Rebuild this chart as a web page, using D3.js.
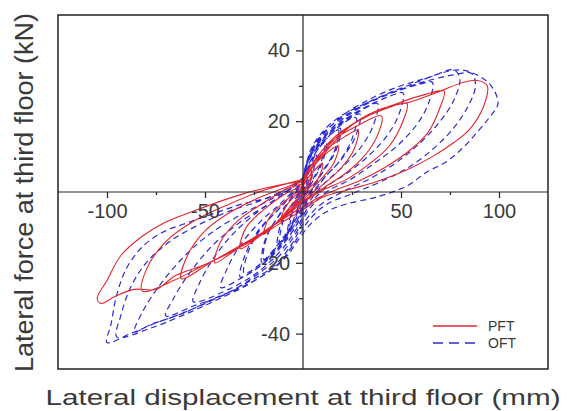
<!DOCTYPE html>
<meta charset="utf-8">
<style>
  body { margin: 0; background: #fff; }
  svg { display: block; }
  .tick text { font-family: "Liberation Sans", Arial, sans-serif; font-size: 20px; fill: #3a3a3a; }
  .axis-title { font-family: "Liberation Sans", Arial, sans-serif; fill: #3a3a3a; }
  .legend text { font-family: "Liberation Sans", Arial, sans-serif; font-size: 14px; fill: #3a3a3a; }
</style>
<body>
<svg width="567" height="411"></svg>
<script src="https://d3js.org/d3.v7.min.js"></script>
<script>
// ticks
var xMajor = [-100, -50, 50, 100];
var xMinor = [-75, -25, 25, 75];
var yMajor = [-40, -20, 20, 40];
var yMinor = [-30, -10, 10, 30];

var seriesNames = ["PFT", "OFT"];

// PFT hysteresis, one array of [displacement mm, force kN] per cycle
var pftLoops = [
  [[0,0],[3,3],[5,5],[3,2],[0,0],[-3,-2],[-5,-4],[-3,-2],[0,0]],
  [[0,1.5],[4,5],[10,8],[8,4],[2,0.5],[-4,-2.5],[-11,-7],[-8,-3.5],[-3,-0.5],[0,1]],
  [[0,2],[5,7],[11,10.5],[18,13],[16,8.5],[9,3.5],[0,-1.5],[-9,-6],[-20,-12],[-17,-7],[-9,-2.5],[0,1.5]],
  [[0,2.5],[5,8],[13,12.5],[21,15.5],[28,17.5],[26,12],[19,6.5],[10,2],[0,-2],[-10,-7],[-21,-12],[-32,-16],[-29,-10],[-20,-5],[-9,-0.5],[0,2]],
  [[0,3],[6,9],[15,14.5],[27,18.5],[40,21.5],[38,16],[31,10],[21,5],[10,1],[0,-2.5],[-12,-8],[-25,-13],[-36,-17],[-45,-20],[-42,-14],[-33,-8],[-20,-3],[-8,1],[0,2.5]],
  [[0,3.5],[6,9],[16,15.5],[28,20],[42,23.5],[53,25],[51,20],[44,13],[34,8],[22,3.5],[10,0.5],[0,-3],[-14,-9],[-30,-14.5],[-46,-19.5],[-62,-24.5],[-59,-18],[-50,-11],[-38,-6],[-22,-1.5],[-8,1.5],[0,3]],
  [[0,3],[6,8],[18,16],[32,21.5],[48,25],[62,27.5],[72,28.5],[70,24],[64,17],[55,12],[42,7],[28,3],[14,0],[0,-4],[-15,-9.5],[-32,-15.5],[-50,-20.5],[-66,-25],[-82,-28],[-80,-22],[-70,-14],[-55,-8],[-38,-3.5],[-20,0.5],[0,3.5]],
  [[0,3.5],[8,9],[24,18.5],[40,23.5],[55,25.5],[70,28.5],[82,31],[89,31.5],[94,30],[92,24],[85,17.7],[77,14],[66,10],[54,6.5],[37,2.8],[24,0.8],[10,-1.5],[0,-5],[-12,-9],[-30,-15],[-50,-20.5],[-65,-23.6],[-75,-27.5],[-86,-27.5],[-96,-29.5],[-103,-31.5],[-105,-30],[-100,-25],[-93,-18],[-82,-12.5],[-70,-8.5],[-53,-4.8],[-31,-0.6],[-12,2],[0,3]]
];

// OFT hysteresis
var oftLoops = [
  [[0,0],[2,3.5],[3,6],[2,3],[0,0],[-2,-3],[-3,-6],[-2,-3],[0,0]],
  [[0,2],[3,6.5],[6,10],[4,5],[0,-1],[-3,-5],[-7,-11],[-5,-5],[-1,0],[0,1.5]],
  [[0,1.5],[3,7],[7,11],[5,5.5],[1,-0.5],[-3,-6],[-8,-12],[-6,-6],[-1,-0.5],[0,2]],
  [[0,2.5],[3,8],[11,14],[9,8],[3,1.5],[-3,-6],[-12,-15],[-10,-8],[-4,-2],[0,2]],
  [[0,2],[4,9],[12,14.5],[10,8.5],[3,1],[-3,-7],[-13,-15.5],[-11,-8.5],[-4,-2.5],[0,2.5]],
  [[0,3],[3,9],[9,13.5],[18,17.5],[16,11.5],[9,5],[2,-1.5],[-4,-8],[-11,-13.5],[-20,-19],[-18,-12],[-10,-5],[0,2.5]],
  [[0,2.5],[3,9.5],[10,14],[19,18],[17,12],[10,5.5],[2,-2],[-4,-9],[-12,-14.5],[-21,-20],[-19,-13],[-11,-5.5],[0,3]],
  [[0,3.5],[3,9.5],[9,14],[17,18],[27,21],[25,15],[19,9],[10,3.5],[2,-2.5],[-4,-9],[-11,-14.5],[-20,-19.5],[-30,-23],[-28,-17],[-21,-10],[-10,-3.5],[0,3]],
  [[0,3],[3,10],[10,15],[19,19],[29,22],[27,16],[20,9.5],[11,4],[2,-3],[-4,-10],[-12,-15.5],[-21,-20.5],[-32,-24],[-30,-18.5],[-23,-11],[-11,-4],[0,3.5]],
  [[0,4],[3,10],[9,14.5],[18,19],[28,22.5],[38,25],[36,19],[30,13],[21,7.5],[11,2.5],[3,-3],[-4,-10],[-12,-16],[-22,-21],[-32,-24.5],[-42,-27],[-39,-22],[-32,-15],[-22,-8.5],[-11,-3],[0,3.5]],
  [[0,4],[4,10.5],[10,15],[20,20],[32,24],[44,27],[51,28],[49,22],[43,16],[34,10.5],[23,5.5],[12,1.5],[3,-4],[-4,-11],[-12,-17],[-24,-23],[-38,-27.5],[-56,-31],[-53,-26],[-46,-19],[-36,-12],[-24,-6],[-11,-1],[0,4]],
  [[0,4],[4,11],[10,15.5],[20,20.5],[33,25],[48,28.5],[60,30.5],[66,31],[64,25],[58,19],[48,13],[36,8],[24,3.5],[12,0],[3,-5],[-4,-12],[-12,-18],[-25,-24],[-40,-29],[-55,-32],[-70,-35],[-66,-30],[-58,-23],[-46,-15],[-32,-8.5],[-18,-3.5],[-6,1],[0,4]],
  [[0,4],[4,11],[10,16],[20,21.5],[35,26.5],[50,30],[65,32.5],[77,34.5],[80,32],[77,26],[70,20],[60,14],[48,8.5],[35,4],[20,0],[8,-4],[0,-9],[-6,-15],[-15,-21],[-30,-26],[-48,-31],[-65,-35],[-78,-37.5],[-86,-39.5],[-82,-34],[-74,-27],[-62,-19],[-48,-12],[-32,-6.5],[-16,-2],[-5,1.5],[0,4]],
  [[0,4],[4,11.5],[10,16.5],[20,21],[34,25.5],[50,29],[64,31.5],[76,33],[86,33.5],[88,30],[84,24],[76,17.5],[66,12],[54,7],[40,3],[25,-0.5],[12,-3.5],[3,-8],[-4,-14],[-12,-20],[-26,-25.5],[-44,-30.5],[-62,-35],[-78,-38.5],[-95,-41],[-93,-35],[-88,-27],[-80,-20],[-68,-14],[-54,-9.5],[-38,-5.5],[-22,-2.5],[-8,1],[0,4]],
  [[0,4],[4,12],[10,17],[18,21],[28,24],[44,28],[58,31],[70,33.5],[80,34.5],[89,33],[96,30],[99.5,25],[95,21],[89,17],[82,12.7],[73,8.5],[63,5.6],[53,1.7],[37,-1.5],[22,-3.4],[12,-5.6],[4,-9],[-3,-14],[-8,-18],[-16,-22],[-30,-26.5],[-45,-30],[-60,-34],[-75,-37],[-88,-40],[-100,-42.5],[-98,-37.5],[-95,-29],[-90,-21.5],[-82,-15.5],[-72,-11.5],[-58,-8.5],[-43,-5.6],[-31,-3.4],[-17,-1.5],[-6,1],[0,4]]
];

var colors = ["#e3262e", "#2b2bd6"];

var svg = d3.select("svg");
var x0 = 58, x1 = 548, y0 = 15, y1 = 369;

var x = d3.scaleLinear().domain([-125, 125]).range([x0, x1]);
var y = d3.scaleLinear().domain([-50, 50]).range([y1, y0]);

svg.append("clipPath").attr("id", "clip")
  .append("rect")
    .attr("x", x0).attr("y", y0)
    .attr("width", x1 - x0).attr("height", y1 - y0);

var line = d3.line()
  .x(function(d) { return x(d[0]); })
  .y(function(d) { return y(d[1]); })
  .curve(d3.curveCatmullRom.alpha(0.5));

var plot = svg.append("g").attr("clip-path", "url(#clip)");

/* OFT dashed first, PFT solid on top */
plot.append("path")
  .datum(d3.merge(oftLoops))
  .attr("d", line)
  .attr("fill", "none")
  .attr("stroke", colors[1])
  .attr("stroke-width", 1.2)
  .attr("stroke-dasharray", "6,4");

plot.append("path")
  .datum(d3.merge(pftLoops))
  .attr("d", line)
  .attr("fill", "none")
  .attr("stroke", colors[0])
  .attr("stroke-width", 1.1);

/* frame */
svg.append("rect")
  .attr("x", x0).attr("y", y0)
  .attr("width", x1 - x0).attr("height", y1 - y0)
  .attr("fill", "none")
  .attr("stroke", "#222")
  .attr("stroke-width", 1.5);

/* axes through origin */
var fmt = function(d) { return String(d); };

var xAxis = svg.append("g")
  .attr("transform", "translate(0," + y(0) + ")")
  .call(d3.axisBottom(x).tickValues(xMajor).tickFormat(fmt).tickSize(6).tickPadding(6));
xAxis.select(".domain").remove();
svg.append("g")
  .attr("transform", "translate(0," + y(0) + ")")
  .call(d3.axisBottom(x).tickValues(xMinor).tickFormat("").tickSize(3))
  .select(".domain").remove();
svg.append("line")
  .attr("x1", x0).attr("x2", x1)
  .attr("y1", y(0)).attr("y2", y(0))
  .attr("stroke", "#222").attr("stroke-width", 1.2);

var yAxis = svg.append("g")
  .attr("transform", "translate(" + x(0) + ",0)")
  .call(d3.axisLeft(y).tickValues(yMajor).tickFormat(fmt).tickSize(7).tickPadding(6));
yAxis.select(".domain").remove();
svg.append("g")
  .attr("transform", "translate(" + x(0) + ",0)")
  .call(d3.axisLeft(y).tickValues(yMinor).tickFormat("").tickSize(4))
  .select(".domain").remove();
svg.append("line")
  .attr("x1", x(0)).attr("x2", x(0))
  .attr("y1", y0).attr("y2", y1)
  .attr("stroke", "#222").attr("stroke-width", 1.2);

svg.selectAll(".tick line").attr("stroke", "#222").attr("stroke-width", 1.2);

/* axis titles */
svg.append("text")
  .attr("class", "axis-title")
  .attr("x", 303).attr("y", 405)
  .attr("text-anchor", "middle")
  .attr("font-size", 22)
  .attr("textLength", 515)
  .attr("lengthAdjust", "spacingAndGlyphs")
  .text("Lateral displacement at third floor (mm)");

svg.append("text")
  .attr("class", "axis-title")
  .attr("transform", "translate(33,192.5) rotate(-90)")
  .attr("text-anchor", "middle")
  .attr("font-size", 25)
  .attr("textLength", 359)
  .attr("lengthAdjust", "spacingAndGlyphs")
  .text("Lateral force at third floor (kN)");

/* legend */
var legend = svg.append("g").attr("class", "legend");
seriesNames.forEach(function(name, i) {
  var ly = 326 + i * 17;
  legend.append("line")
    .attr("x1", 433).attr("x2", 477)
    .attr("y1", ly).attr("y2", ly)
    .attr("stroke", colors[i])
    .attr("stroke-width", 1.3)
    .attr("stroke-dasharray", i === 1 ? "10,6" : null);
  legend.append("text")
    .attr("x", 488).attr("y", ly + 5)
    .text(name);
});
</script>
</body>
